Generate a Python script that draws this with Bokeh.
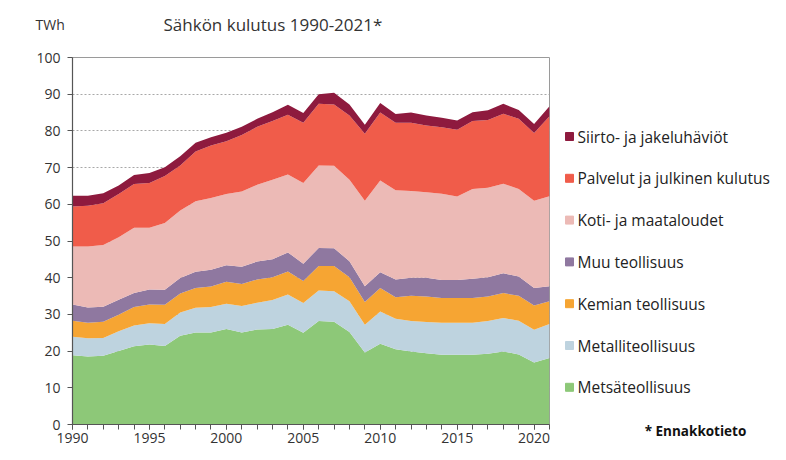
from bokeh.plotting import figure
from bokeh.layouts import column, row
from bokeh.models import ColumnDataSource, SingleIntervalTicker, FixedTicker, LinearAxis, Range1d
from bokeh.core.properties import value
from bokeh.embed import file_html
from bokeh.resources import INLINE

years = list(range(1990, 2022))

metsa = [18.9, 18.5, 18.7, 20.0, 21.3, 21.8, 21.4, 24.2, 25.1, 25.1, 26.0, 25.1, 25.9, 26.0, 27.2, 25.0,
         28.2, 28.0, 25.2, 19.6, 22.0, 20.5, 19.9, 19.4, 19.0, 19.0, 19.0, 19.3, 19.9, 19.1, 16.9, 18.1]
metalli = [5.0, 5.0, 4.9, 5.4, 5.7, 5.8, 6.0, 6.3, 6.7, 6.9, 6.9, 7.2, 7.3, 7.9, 8.2, 8.1,
           8.3, 8.3, 8.4, 7.6, 8.8, 8.3, 8.3, 8.5, 8.7, 8.7, 8.7, 8.9, 9.1, 9.2, 8.9, 9.3]
kemia = [4.4, 4.2, 4.4, 4.5, 5.0, 5.1, 5.2, 5.2, 5.4, 5.6, 6.0, 6.0, 6.3, 6.2, 6.3, 6.0,
         6.7, 6.9, 6.5, 6.2, 6.4, 5.9, 6.9, 7.0, 6.8, 6.8, 6.8, 6.7, 6.8, 6.8, 6.6, 6.2]
muu = [4.4, 4.2, 4.1, 4.1, 3.8, 4.1, 4.1, 4.2, 4.4, 4.6, 4.5, 4.7, 4.9, 4.9, 5.2, 4.7,
       4.9, 4.8, 4.4, 4.3, 4.3, 4.8, 4.9, 5.1, 4.9, 4.9, 5.2, 5.2, 5.4, 5.2, 4.8, 4.1]
koti = [15.8, 16.6, 16.8, 17.0, 17.8, 16.8, 18.2, 18.4, 19.2, 19.5, 19.4, 20.5, 20.9, 21.7, 21.2, 22.0,
        22.5, 22.5, 22.2, 23.3, 25.0, 24.3, 23.6, 23.3, 23.5, 22.7, 24.5, 24.4, 24.4, 23.9, 23.8, 24.5]
palvelut = [10.9, 11.1, 11.4, 11.8, 11.9, 12.2, 12.8, 12.3, 13.6, 14.3, 14.4, 15.4, 15.8, 16.0, 16.3, 16.4,
            16.8, 16.7, 17.5, 18.2, 18.5, 18.4, 18.6, 18.2, 18.1, 18.2, 18.5, 18.5, 19.1, 19.1, 18.4, 21.8]
siirto = [2.9, 2.7, 2.7, 2.3, 2.5, 2.7, 2.4, 2.5, 2.4, 2.3, 2.3, 2.2, 2.2, 2.4, 2.7, 2.7,
          2.6, 3.2, 3.0, 2.5, 2.6, 2.4, 2.8, 2.7, 2.6, 2.5, 2.4, 2.6, 2.7, 2.4, 2.5, 2.7]

names = ["metsa", "metalli", "kemia", "muu", "koti", "palvelut", "siirto"]
labels = ["Metsäteollisuus", "Metalliteollisuus", "Kemian teollisuus", "Muu teollisuus",
          "Koti- ja maataloudet", "Palvelut ja julkinen kulutus", "Siirto- ja jakeluhäviöt"]
colors = ["#8dc878", "#bed3df", "#f6a533", "#8f78a0", "#ecbab6", "#f05c4a", "#8e1a3e"]

title_text = "Sähkön kulutus 1990-2021*"
unit_text = "TWh"
note_text = "* Ennakkotieto"

FONT = "Open Sans"
TXT = "#333333"

TOP_H = 45
MAIN_H = 407
MAIN_W = 551
SIDE_W = 229
B_TOP, B_BOTTOM = 12, 28


def blank(w, h, top=0, bottom=0):
    f = figure(width=w, height=h, output_backend="svg", toolbar_location=None,
               x_range=Range1d(0, w), y_range=Range1d(0, h - top - bottom),
               x_axis_type=None, y_axis_type=None,
               min_border_left=0, min_border_right=0,
               min_border_top=top, min_border_bottom=bottom)
    f.grid.visible = False
    f.outline_line_color = None
    return f


# header: unit and title
top = blank(MAIN_W + SIDE_W, TOP_H)
top.text(x=[35], y=[TOP_H - 24], text=[unit_text], text_font=value(FONT), text_font_size="14px",
         text_color=TXT, text_baseline="middle")
top.text(x=[163], y=[TOP_H - 24], text=[title_text], text_font=value(FONT), text_font_size="17px",
         text_color=TXT, text_baseline="middle")

# main stacked area chart
src = ColumnDataSource(dict(year=years, metsa=metsa, metalli=metalli, kemia=kemia, muu=muu,
                            koti=koti, palvelut=palvelut, siirto=siirto))

p = figure(width=MAIN_W, height=MAIN_H, output_backend="svg", toolbar_location=None,
           x_range=Range1d(1990, 2021), y_range=Range1d(0, 100),
           min_border_left=72, min_border_right=2, min_border_top=B_TOP, min_border_bottom=B_BOTTOM)
p.outline_line_color = "#9a9a9a"
p.outline_line_width = 1

areas = p.varea_stack(stackers=names, x="year", color=colors, source=src)

p.xgrid.visible = False
p.ygrid.ticker = SingleIntervalTicker(interval=10)
p.ygrid.grid_line_color = "#a8a8a8"
p.ygrid.grid_line_dash = "2 2"
p.ygrid.grid_line_width = 1

p.xaxis.ticker = SingleIntervalTicker(interval=5, num_minor_ticks=5)
p.yaxis.ticker = SingleIntervalTicker(interval=10)
for ax in (p.xaxis, p.yaxis):
    ax.axis_line_color = "#555555"
    ax.axis_line_width = 1.2
    ax.major_tick_line_color = "#555555"
    ax.minor_tick_line_color = "#555555"
    ax.major_tick_out = 5
    ax.major_tick_in = 0
    ax.minor_tick_out = 5
    ax.minor_tick_in = 0
    ax.major_label_text_font = FONT
    ax.major_label_text_font_size = "14px"
    ax.major_label_text_color = TXT
p.yaxis.minor_tick_line_color = None
p.xaxis.major_label_standoff = 3
p.yaxis.major_label_standoff = 7

# legend panel on the right, y measured upward from the frame bottom
side = blank(SIDE_W, MAIN_H, B_TOP, B_BOTTOM)
order = list(range(len(labels)))[::-1]
leg_y = [288 - 41.8 * k for k in range(len(order))]
leg_src = ColumnDataSource(dict(
    y=leg_y,
    label=[labels[i] for i in order],
    color=[colors[i] for i in order],
))
side.scatter(x=18, y="y", marker="square", size=8, color="color", source=leg_src)
side.text(x=26, y="y", text="label", text_font=value(FONT), text_font_size="15.5px",
          text_color="#222222", text_baseline="middle", source=leg_src)

# footnote sits below the frame, drawn as a lone axis label
note_axis = LinearAxis(ticker=FixedTicker(ticks=[144]), major_label_overrides={144: note_text})
note_axis.axis_line_color = None
note_axis.major_tick_line_color = None
note_axis.minor_tick_line_color = None
note_axis.major_label_standoff = -9
note_axis.major_label_text_font = FONT
note_axis.major_label_text_font_size = "13.5px"
note_axis.major_label_text_font_style = "bold"
note_axis.major_label_text_color = "#111111"
side.add_layout(note_axis, "below")

layout = column(top, row(p, side))
open("out.html", "w").write(file_html(layout, INLINE))
